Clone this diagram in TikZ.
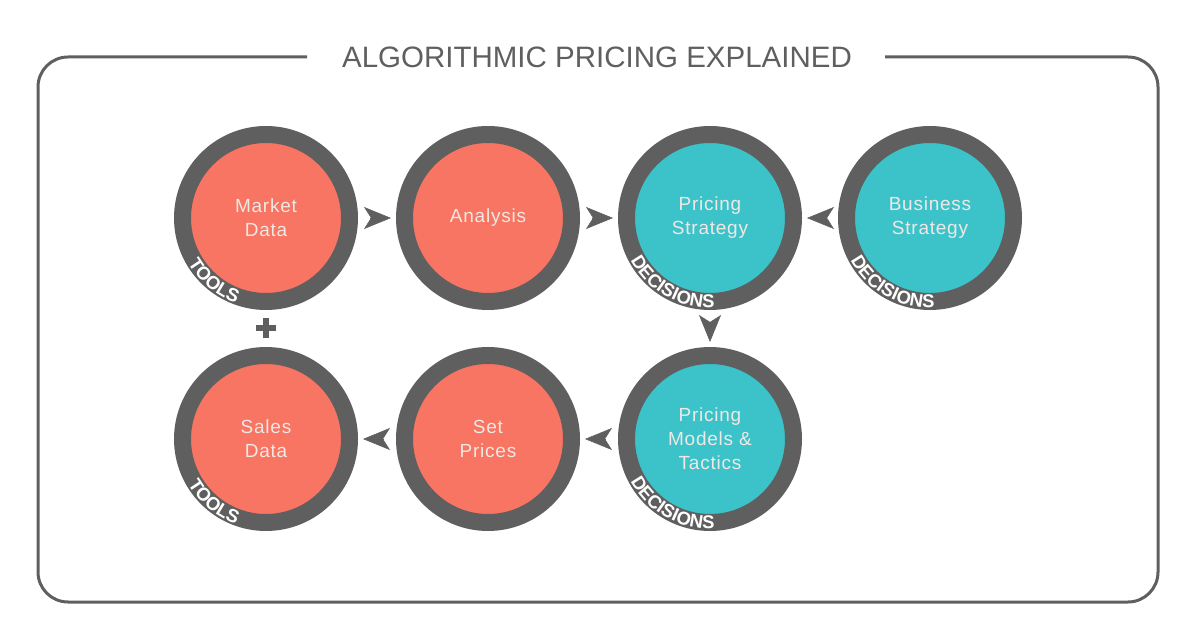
\documentclass[tikz,border=0pt]{standalone}
\usepackage{fontspec}
\setmainfont{Liberation Sans}
\newfontfamily\labfont[LetterSpace=4]{Liberation Sans}
\usetikzlibrary{arrows.meta,decorations.text,calc}
\definecolor{ring}{HTML}{5F5F5F}
\definecolor{coral}{HTML}{F77562}
\definecolor{teal2}{HTML}{3CC3CA}
\definecolor{labtxt}{HTML}{F0E8E4}
\begin{document}
\begin{tikzpicture}[x=1pt,y=1pt,
  stage/.style={circle, draw=ring, line width=17pt, minimum size=167pt, inner sep=0pt, align=center, text=labtxt, font=\labfont\fontsize{19}{24}\selectfont},
  tool/.style={stage, fill=coral},
  decision/.style={stage, fill=teal2},
  flow/.style={draw=ring, fill=ring, line width=0.5pt, -{Stealth[length=27pt,width=22pt,inset=7pt]}, shorten <=12pt, shorten >=5pt},
  frame/.style={draw=ring, line width=3pt, rounded corners=30pt},
  ringlabel/.style={decorate, decoration={text along path, text align=left, text={|\color{white}\bfseries\fontsize{18.5}{18.5}\selectfont|#1}}},
  plusmark/.style={draw=ring, line width=6pt}
]
\useasboundingbox (0,0) rectangle (1200,630);
\draw[frame] (307,573) -- (38,573) -- (38,28) -- (1158,28) -- (1158,573) -- (885,573);
\node[font=\fontsize{29.5}{30}\selectfont, text=ring, anchor=base] (title) at (597,562) {ALGORITHMIC PRICING EXPLAINED};

\node[tool] (md) at (266,412) {Market\\Data};
\node[tool] (an) at (488,412) {Analysis};
\node[decision] (ps) at (710,412) {Pricing\\Strategy};
\node[decision] (bs) at (930,412) {Business\\Strategy};
\node[tool] (sd) at (266,191) {Sales\\Data};
\node[tool] (sp) at (488,191) {Set\\Prices};
\node[decision] (pm) at (710,191) {Pricing\\Models \&\\Tactics};

\path[ringlabel=TOOLS] ([shift={(md.center)}]210:90) arc[start angle=210, end angle=330, radius=90];
\path[ringlabel=TOOLS] ([shift={(sd.center)}]210:90) arc[start angle=210, end angle=330, radius=90];
\path[ringlabel=DECISIONS] ([shift={(ps.center)}]208:90) arc[start angle=208, end angle=330, radius=90];
\path[ringlabel=DECISIONS] ([shift={(bs.center)}]208:90) arc[start angle=208, end angle=330, radius=90];
\path[ringlabel=DECISIONS] ([shift={(pm.center)}]208:90) arc[start angle=208, end angle=330, radius=90];

\draw[flow] (md) -- (an);
\draw[flow] (an) -- (ps);
\draw[flow, shorten >=5pt] (bs) -- (ps);
\draw[flow, shorten >=5pt] (ps) -- (pm);
\draw[flow] (pm) -- (sp);
\draw[flow] (sp) -- (sd);

\coordinate (pc) at ($(md.south)!0.5!(sd.north)$);
\draw[plusmark] ($(pc)+(-10,0)$) -- ($(pc)+(10,0)$) ($(pc)+(0,-10)$) -- ($(pc)+(0,10)$);
\end{tikzpicture}
\end{document}
